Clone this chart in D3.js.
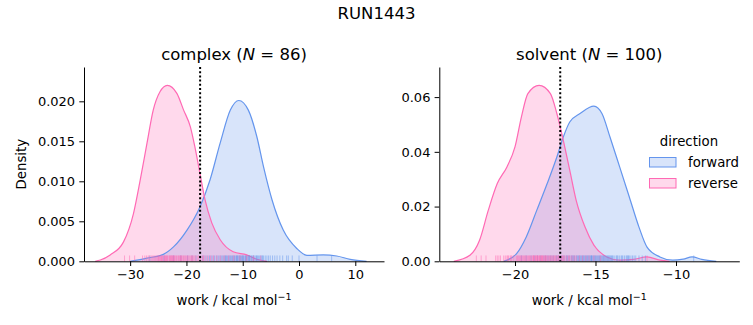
<!DOCTYPE html>
<html><head><meta charset="utf-8">
<script src="https://cdn.jsdelivr.net/npm/d3@7"></script>
<style>body{margin:0;background:#fff}svg{display:block}text{font-family:"DejaVu Sans",sans-serif;fill:#000}</style>
</head><body><svg id="c" width="753" height="325"></svg>
<script>
// ---- data ----
const suptitle = "RUN1443";
const directions = ["forward", "reverse"];
const colors = {forward: "#6495ED", reverse: "#FF69B4"};

// complex panel: KDE curve points [work, density]
const complexForwardKde = [[-30,0],[-27,0.0004],[-24.1,0.00087],[-22.3,0.0018],[-19.9,0.0039],[-17.6,0.0068],[-15.8,0.0102],[-14.0,0.0148],[-12.2,0.0189],[-10.7,0.0201],[-9.0,0.0189],[-7.5,0.0156],[-6.3,0.0118],[-4.8,0.0077],[-2.8,0.0039],[-0.4,0.0016],[1.4,0.00075],[4.3,0.0008],[6.7,0.00066],[9.1,0.00025],[12.0,0]];
const complexReverseKde = [[-36.2,0],[-35.3,0.00016],[-33.55,0.0008],[-31.2,0.0024],[-29.4,0.006],[-28.2,0.0102],[-27.0,0.0148],[-25.9,0.0189],[-24.7,0.0212],[-23.4,0.0220],[-21.7,0.0210],[-20.5,0.0189],[-19.3,0.0168],[-18.5,0.0143],[-17.6,0.0110],[-16.7,0.0077],[-15.5,0.0048],[-14.0,0.0027],[-11.7,0.0012],[-9.3,0.0008],[-7.5,0.00025],[-5.7,0]];
const complexForwardRug = [-26.5,-24.0,-22.3,-21.0,-19.8,-19.0,-18.3,-17.6,-17.1,-16.7,-16.3,-15.9,-15.6,-15.3,-15.0,-14.7,-14.4,-14.2,-13.9,-13.7,-13.5,-13.3,-13.1,-13.0,-12.9,-12.7,-12.5,-12.3,-12.2,-12.0,-11.8,-11.7,-11.5,-11.4,-11.2,-11.1,-11.0,-10.9,-10.8,-10.6,-10.5,-10.4,-10.2,-10.1,-10.0,-9.9,-9.8,-9.6,-9.5,-9.4,-9.3,-9.2,-9.0,-8.9,-8.8,-8.7,-8.5,-8.4,-8.2,-8.1,-8.0,-7.8,-7.6,-7.5,-7.4,-7.2,-7.0,-6.8,-6.6,-6.5,-6.3,-6.0,-5.7,-5.4,-5.1,-4.7,-4.3,-3.9,-3.4,-2.9,-2.2,-1.9,-1.2,0.0,3.2,5.8];
const complexReverseRug = [-31.0,-30.1,-29.2,-27.8,-27.4,-27.1,-26.8,-26.6,-26.3,-26.1,-25.9,-25.7,-25.5,-25.3,-25.1,-24.9,-24.8,-24.6,-24.5,-24.3,-24.2,-24.0,-23.9,-23.8,-23.7,-23.6,-23.5,-23.4,-23.3,-23.1,-23.0,-22.9,-22.8,-22.7,-22.6,-22.5,-22.4,-22.2,-22.1,-22.0,-21.8,-21.7,-21.5,-21.4,-21.2,-21.1,-20.9,-20.8,-20.6,-20.5,-20.3,-20.2,-20.0,-19.8,-19.7,-19.5,-19.3,-19.1,-18.9,-18.7,-18.5,-18.3,-18.0,-17.8,-17.5,-17.2,-16.9,-16.5,-16.1,-15.7,-15.2,-14.6,-14.0,-13.3,-12.5,-11.6,-10.5,-9.3,-8.1,-6.8,-25.0,-22.3,-21.0,-19.0,-17.0,-24.4];
const complexN = 86;
const complexLine = -17.57;

// solvent panel
const solventForwardKde = [[-20.7,0],[-19.9,0.0028],[-19.3,0.0089],[-18.65,0.0186],[-18.0,0.0284],[-17.4,0.0381],[-17.0,0.0454],[-16.6,0.0509],[-15.96,0.054],[-15.1,0.0567],[-14.6,0.054],[-14.1,0.0454],[-13.5,0.0345],[-12.9,0.0235],[-12.3,0.0125],[-11.8,0.0052],[-11.0,0.0016],[-10.2,0.0004],[-9.55,0.0008],[-9.0,0.0016],[-8.4,0.0007],[-7.5,0]];
const solventReverseKde = [[-23.8,0],[-22.8,0.0022],[-22.2,0.0077],[-21.66,0.0186],[-21.1,0.0284],[-20.5,0.0345],[-20.0,0.0418],[-19.6,0.0528],[-19.2,0.0613],[-18.5,0.0643],[-17.8,0.0613],[-17.4,0.054],[-17.0,0.0442],[-16.6,0.0333],[-16.2,0.0223],[-15.65,0.0125],[-15.1,0.0059],[-14.3,0.0016],[-13.5,0.0004],[-12.65,0.0007],[-11.8,0.0016],[-11.0,0.0004],[-10.4,0]];
const solventForwardRug = [-19.6,-19.3,-19.0,-18.8,-18.6,-18.4,-18.2,-18.0,-17.9,-17.7,-17.6,-17.4,-17.3,-17.2,-17.1,-17.0,-16.9,-16.8,-16.7,-16.6,-16.5,-16.4,-16.3,-16.2,-16.1,-16.0,-15.95,-15.9,-15.8,-15.7,-15.65,-15.6,-15.5,-15.45,-15.4,-15.3,-15.25,-15.2,-15.1,-15.05,-15.0,-14.95,-14.9,-14.8,-14.75,-14.7,-14.6,-14.55,-14.5,-14.4,-14.35,-14.3,-14.2,-14.1,-14.0,-13.9,-13.8,-13.7,-13.6,-13.5,-13.4,-13.3,-13.2,-13.1,-13.0,-12.9,-12.8,-12.7,-12.5,-12.3,-12.1,-11.9,-8.9,-16.15,-15.55,-14.65,-15.15,-16.45,-13.95,-17.15,-14.45,-15.35,-16.05,-15.75,-14.85,-13.65,-16.75,-15.85,-14.25,-17.45,-13.35,-16.35,-15.25,-14.15,-12.6,-18.1,-17.8,-13.05,-12.95,-14.05];
const solventReverseRug = [-22.4,-22.1,-21.8,-21.2,-21.1,-21.0,-20.9,-20.7,-20.6,-20.5,-20.4,-20.3,-20.2,-20.1,-20.0,-19.9,-19.8,-19.75,-19.7,-19.6,-19.55,-19.5,-19.4,-19.35,-19.3,-19.2,-19.15,-19.1,-19.0,-18.95,-18.9,-18.85,-18.8,-18.75,-18.7,-18.65,-18.6,-18.55,-18.5,-18.45,-18.4,-18.35,-18.3,-18.25,-18.2,-18.15,-18.1,-18.05,-18.0,-17.95,-17.9,-17.85,-17.8,-17.7,-17.65,-17.6,-17.5,-17.45,-17.4,-17.3,-17.25,-17.2,-17.1,-17.0,-16.9,-16.8,-16.7,-16.6,-16.5,-16.4,-16.3,-16.2,-16.0,-15.8,-15.6,-15.4,-15.1,-14.7,-11.8,-19.25,-18.62,-18.38,-18.12,-17.75,-19.45,-19.65,-17.55,-17.35,-18.85,-18.48,-20.25,-20.45,-16.95,-17.15,-18.28,-18.72,-19.05,-16.65,-17.05,-19.85];
const solventN = 100;
const solventLine = -17.19;

const complexXTicks = [-30,-20,-10,0,10];
const complexYTicks = [0,0.005,0.010,0.015,0.020];
const solventXTicks = [-20,-15,-10];
const solventYTicks = [0,0.02,0.04,0.06];

const panels = [
  {name:"complex", N:complexN, kde:{forward:complexForwardKde, reverse:complexReverseKde},
   rug:{forward:complexForwardRug, reverse:complexReverseRug}, vline:complexLine,
   xDomain:[-38.2,15.1], yDomain:[0,0.02429], xTicks:complexXTicks, yTicks:complexYTicks, yFmt:".3f",
   left:84, right:384},
  {name:"solvent", N:solventN, kde:{forward:solventForwardKde, reverse:solventReverseKde},
   rug:{forward:solventForwardRug, reverse:solventReverseRug}, vline:solventLine,
   xDomain:[-24.7,-6.07], yDomain:[0,0.0710], xTicks:solventXTicks, yTicks:solventYTicks, yFmt:".2f",
   left:439.3, right:739.3}
];

// ---- drawing ----
const svg = d3.select("#c");
const topY = 67, bottomY = 261.3;
const minus = s => s.replace(/-/g, "\u2212");
const tickFont = "13px", labelFont = "13.3px", titleFont = "16.5px";

svg.append("text").attr("x", 376.5).attr("y", 19).attr("text-anchor","middle")
  .style("font-size",titleFont).text(suptitle);

panels.forEach((p, pi) => {
  const x = d3.scaleLinear().domain(p.xDomain).range([p.left, p.right]);
  const y = d3.scaleLinear().domain(p.yDomain).range([bottomY, topY]);
  const g = svg.append("g");

  const area = d3.area().curve(d3.curveMonotoneX).x(d=>x(d[0])).y0(y(0)).y1(d=>y(d[1]));
  const line = d3.line().curve(d3.curveMonotoneX).x(d=>x(d[0])).y(d=>y(d[1]));

  directions.forEach(dir => {
    g.append("path").datum(p.kde[dir]).attr("d", area)
      .attr("fill", colors[dir]).attr("fill-opacity", 0.25).attr("stroke","none");
  });
  directions.forEach(dir => {
    g.append("path").datum(p.kde[dir]).attr("d", line)
      .attr("fill","none").attr("stroke", colors[dir]).attr("stroke-width", 1.2);
  });
  const rugH = (bottomY - topY) * 0.03;
  directions.forEach(dir => {
    g.append("g").selectAll("line").data(p.rug[dir]).join("line")
      .attr("x1", d=>x(d)).attr("x2", d=>x(d))
      .attr("y1", bottomY).attr("y2", bottomY - rugH)
      .attr("stroke", colors[dir]).attr("stroke-opacity", 0.5).attr("stroke-width", 1);
  });
  g.append("line").attr("x1", x(p.vline)).attr("x2", x(p.vline))
    .attr("y1", topY).attr("y2", bottomY)
    .attr("stroke","#000").attr("stroke-width",2).attr("stroke-dasharray","2,2.2");

  const xa = g.append("g").attr("transform", `translate(0,${bottomY})`)
    .call(d3.axisBottom(x).tickValues(p.xTicks).tickSize(4.7).tickPadding(4.2).tickFormat(d=>minus(d3.format("d")(d))).tickSizeOuter(0));
  const ya = g.append("g").attr("transform", `translate(${p.left},0)`)
    .call(d3.axisLeft(y).tickValues(p.yTicks).tickSize(4.7).tickPadding(4.2).tickFormat(d3.format(p.yFmt)).tickSizeOuter(0));
  [xa, ya].forEach(a => {
    a.select(".domain").attr("stroke","#000").attr("stroke-width",1);
    a.selectAll(".tick line").attr("stroke","#000").attr("stroke-width",1);
    a.selectAll("text").style("font-size",tickFont).style("font-family","DejaVu Sans").attr("fill","#000");
  });

  const cx = (p.left + p.right) / 2;
  const xl = g.append("text").attr("x", cx).attr("y", 305).attr("text-anchor","middle").style("font-size",labelFont);
  xl.append("tspan").text("work / kcal mol");
  xl.append("tspan").attr("dy", -5).style("font-size","9.5px").text("\u22121");

  const t = g.append("text").attr("x", cx).attr("y", 60).attr("text-anchor","middle").style("font-size",titleFont);
  t.append("tspan").text(p.name + " (");
  t.append("tspan").style("font-style","italic").text("N");
  t.append("tspan").text(" = " + p.N + ")");

  if (pi === 0) {
    svg.append("text").attr("transform", `translate(26,${(topY+bottomY)/2}) rotate(-90)`)
      .attr("text-anchor","middle").style("font-size",labelFont).text("Density");
  }
});

const lg = svg.append("g");
lg.append("text").attr("x", 689).attr("y", 146).attr("text-anchor","middle").style("font-size",labelFont).text("direction");
directions.forEach((dir, i) => {
  const yy = 157.5 + i * 21;
  lg.append("rect").attr("x", 649.5).attr("y", yy).attr("width", 26.5).attr("height", 9.5)
    .attr("fill", colors[dir]).attr("fill-opacity", 0.25).attr("stroke", colors[dir]).attr("stroke-width", 1);
  lg.append("text").attr("x", 688).attr("y", yy + 9.5).style("font-size",labelFont).text(dir);
});
</script></body></html>
